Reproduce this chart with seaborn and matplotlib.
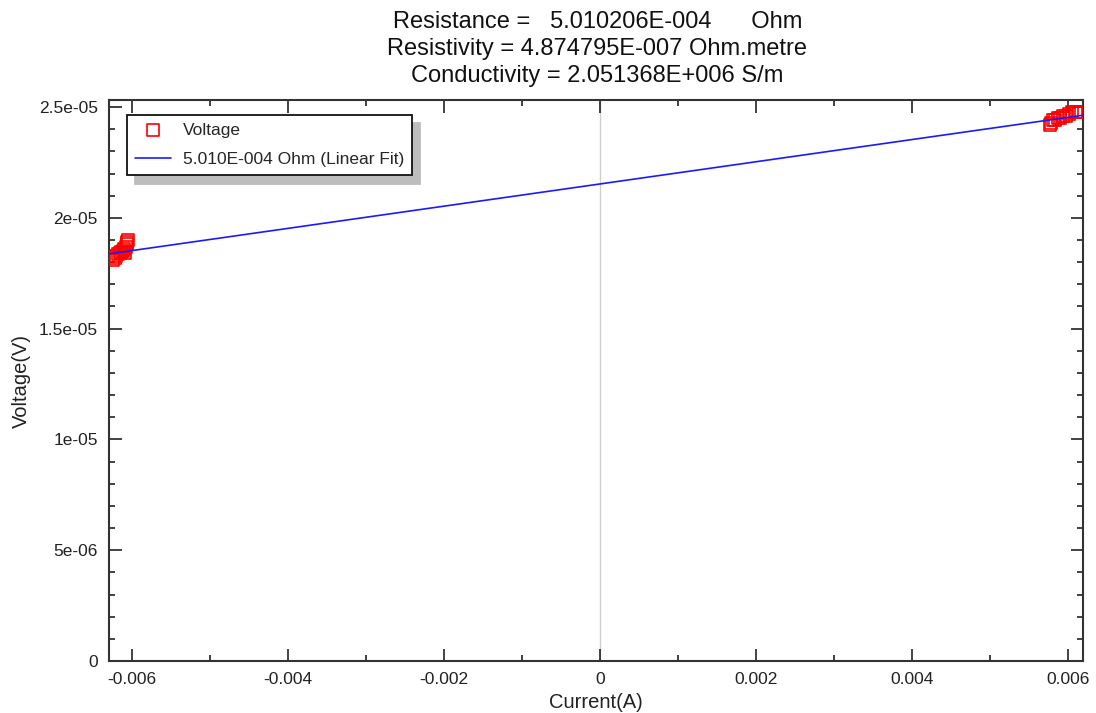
import numpy as np
import pandas as pd
import matplotlib
matplotlib.use("Agg")
import matplotlib.pyplot as plt
from matplotlib.ticker import MultipleLocator, FuncFormatter
import seaborn as sns

# Measured current / voltage pairs (two sweeps, negative and positive current)
current_neg = [-0.00624, -0.00622, -0.00620, -0.00618, -0.00616, -0.00614,
               -0.00612, -0.00610, -0.00609, -0.00608, -0.00607, -0.00606, -0.00605]
voltage_neg = [1.81e-05, 1.82e-05, 1.83e-05, 1.835e-05, 1.84e-05, 1.845e-05,
               1.85e-05, 1.86e-05, 1.84e-05, 1.87e-05, 1.88e-05, 1.89e-05, 1.90e-05]
current_pos = [0.00577, 0.00579, 0.00581, 0.00584, 0.00587, 0.00590, 0.00594,
               0.00598, 0.00602, 0.00606, 0.00610, 0.00614]
voltage_pos = [2.42e-05, 2.43e-05, 2.44e-05, 2.44e-05, 2.45e-05, 2.45e-05, 2.46e-05,
               2.46e-05, 2.47e-05, 2.48e-05, 2.48e-05, 2.48e-05]

# Linear fit results
resistance = 5.010206e-04
fit_intercept = 2.153e-05
resistivity_text = "4.874795E-007"
conductivity_text = "2.051368E+006"

x_limits = (-0.006295, 0.006195)
y_limits = (0.0, 2.532e-05)

data = pd.DataFrame({
    "Current": current_neg + current_pos,
    "Voltage": voltage_neg + voltage_pos,
})
fit_x = np.array(x_limits)
fit = pd.DataFrame({"Current": fit_x, "Voltage": fit_intercept + resistance * fit_x})

sns.set_theme(style="white")
plt.rcParams["font.family"] = ["Liberation Sans", "DejaVu Sans"]

fig = plt.figure(figsize=(10.96, 7.13), dpi=100)
ax = fig.add_axes([109 / 1096, 1 - 661 / 713, (1083 - 109) / 1096, (661 - 100) / 713])

ax.axvline(0, color="#cfcfcf", lw=1.0, zorder=0)

sns.scatterplot(data=data, x="Current", y="Voltage", ax=ax, marker="s", s=75,
                facecolor="none", edgecolor="#ff0000", linewidth=1.2,
                label="Voltage", zorder=3)
sns.lineplot(data=fit, x="Current", y="Voltage", ax=ax, color="#1a1aff", lw=1.2,
             label=f"{resistance:.3E}".replace("E-04", "E-004") + " Ohm (Linear Fit)",
             zorder=4)

ax.set_xlim(*x_limits)
ax.set_ylim(*y_limits)

ax.xaxis.set_major_locator(MultipleLocator(0.002))
ax.xaxis.set_minor_locator(MultipleLocator(0.001))
ax.yaxis.set_major_locator(MultipleLocator(5e-06))
ax.yaxis.set_minor_locator(MultipleLocator(1e-06))


def fmt_x(v, pos):
    if abs(v) < 1e-12:
        return "0"
    return f"{v:.3f}"


def fmt_y(v, pos):
    if abs(v) < 1e-15:
        return "0"
    s = f"{v:.1e}"
    mant, exp = s.split("e")
    mant = mant.rstrip("0").rstrip(".")
    return f"{mant}e{exp}"


ax.xaxis.set_major_formatter(FuncFormatter(fmt_x))
ax.yaxis.set_major_formatter(FuncFormatter(fmt_y))

ax.tick_params(which="both", direction="in", top=True, right=True, bottom=True,
               left=True, labelsize=12.5, colors="#222222", width=1.2)
ax.tick_params(which="major", length=9)
ax.tick_params(which="minor", length=4)
ax.tick_params(axis="x", which="major", pad=8)
ax.tick_params(axis="y", which="major", pad=8)
ax.tick_params(axis="x", labeltop=False)
ax.tick_params(axis="y", labelright=False)

for sp in ax.spines.values():
    sp.set_color("#333333")
    sp.set_linewidth(1.5)

ax.set_xlabel("Current(A)", fontsize=14.5, color="#222222", labelpad=4)
ax.set_ylabel("Voltage(V)", fontsize=14.5, color="#222222", labelpad=6)

title = (f"Resistance =   {resistance:.6E}".replace("E-04", "E-004") + "      Ohm\n"
         f"Resistivity = {resistivity_text} Ohm.metre\n"
         f"Conductivity = {conductivity_text} S/m")
fig.text(0.545, 0.984, title, ha="center", va="top", fontsize=17,
         color="#111111", linespacing=1.27)

leg = ax.legend(loc="upper left", bbox_to_anchor=(0.0185, 0.974), fontsize=12.5,
                frameon=True, fancybox=False, borderpad=0.45, labelspacing=0.85,
                handlelength=2.1, handletextpad=0.65, borderaxespad=0,
                shadow={"ox": 6, "oy": -6, "color": "#bdbdbd", "alpha": 1})
leg.get_frame().set_edgecolor("#111111")
leg.get_frame().set_linewidth(1.3)
leg.get_frame().set_alpha(1)

fig.savefig("out.png", dpi=100)
